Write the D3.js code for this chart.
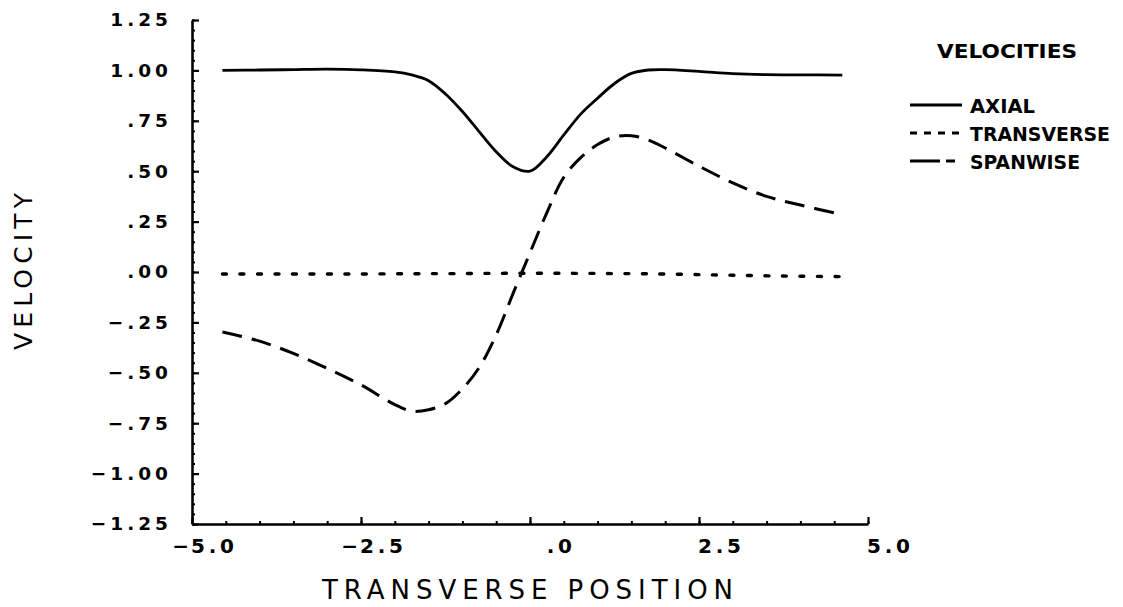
<!DOCTYPE html>
<html>
<head>
<meta charset="utf-8">
<script src="https://cdn.jsdelivr.net/npm/d3@7"></script>
<style>
  html, body { margin: 0; padding: 0; background: #fff; }
  svg { display: block; }
  text { font-family: "DejaVu Sans", sans-serif; fill: #000; }
</style>
</head>
<body>
<script>
// ---- data ----
const xValues = [-4.55, -4, -3.5, -3, -2.5, -2, -1.75, -1.5, -1.25, -1, -0.75, -0.5, -0.25, 0,
                 0.25, 0.5, 0.75, 1, 1.25, 1.5, 1.75, 2, 2.5, 3, 3.5, 4, 4.62];
const axial = [1.000, 1.002, 1.004, 1.006, 1.003, 0.993, 0.978, 0.949, 0.883, 0.796, 0.695, 0.596, 0.522, 0.500,
               0.572, 0.680, 0.783, 0.862, 0.935, 0.985, 1.002, 1.004, 0.995, 0.984, 0.979, 0.978, 0.977];
const transverse = [-0.010, -0.010, -0.010, -0.010, -0.010, -0.009, -0.009, -0.008, -0.008, -0.008, -0.007, -0.007, -0.006, -0.006,
                    -0.006, -0.006, -0.007, -0.007, -0.008, -0.008, -0.009, -0.010, -0.013, -0.016, -0.019, -0.021, -0.023];
const spanwise = [-0.298, -0.343, -0.404, -0.478, -0.560, -0.658, -0.690, -0.683, -0.653, -0.580, -0.473, -0.312, -0.106, 0.095,
                  0.295, 0.470, 0.567, 0.632, 0.670, 0.676, 0.655, 0.615, 0.525, 0.442, 0.375, 0.332, 0.284];
const seriesNames = ["AXIAL", "TRANSVERSE", "SPANWISE"];
const xTicks = [-5, -2.5, 0, 2.5, 5];
const xTickLabels = ["\u22125.0", "\u22122.5", ".0", "2.5", "5.0"];
const yTicks = [-1.25, -1.0, -0.75, -0.5, -0.25, 0, 0.25, 0.5, 0.75, 1.0, 1.25];
const yTickLabels = ["\u22121.25", "\u22121.00", "\u2212.75", "\u2212.50", "\u2212.25", ".00", ".25", ".50", ".75", "1.00", "1.25"];
const xTitle = "TRANSVERSE  POSITION";
const yTitle = "VELOCITY";
const legendTitle = "VELOCITIES";

// ---- chart ----
const W = 1123, H = 607;
const svg = d3.select("body").append("svg").attr("width", W).attr("height", H);
const x = d3.scaleLinear().domain([-5, 5]).range([192, 868]);
const y = d3.scaleLinear().domain([-1.25, 1.25]).range([524, 20]);

// minor ticks
svg.append("g").attr("transform", "translate(192,0)")
  .call(d3.axisLeft(y).tickValues(d3.range(-25, 26).map(i => i * 0.05)).tickSizeInner(-3).tickSizeOuter(0).tickFormat(""))
  .call(g => g.select(".domain").remove())
  .call(g => g.selectAll("line").attr("stroke", "#000").attr("stroke-width", 2));
svg.append("g").attr("transform", "translate(0,524)")
  .call(d3.axisBottom(x).tickValues(d3.range(-10, 11).map(i => i * 0.5)).tickSizeInner(-3).tickSizeOuter(0).tickFormat(""))
  .call(g => g.select(".domain").remove())
  .call(g => g.selectAll("line").attr("stroke", "#000").attr("stroke-width", 2));

// major y axis
const gy = svg.append("g").attr("transform", "translate(192,0)")
  .call(d3.axisLeft(y).tickValues(yTicks).tickSizeInner(-7).tickSizeOuter(0)
        .tickPadding(20).tickFormat(d => yTickLabels[yTicks.indexOf(d)]));
gy.select(".domain").attr("stroke", "#000").attr("stroke-width", 2.6);
gy.selectAll("line").attr("stroke", "#000").attr("stroke-width", 2.2);
gy.selectAll("text").attr("font-size", 18.5).attr("font-weight", "bold").attr("letter-spacing", 4)
  .attr("font-family", "DejaVu Sans").attr("fill", "#000");

// major x axis
const gx = svg.append("g").attr("transform", "translate(0,524)")
  .call(d3.axisBottom(x).tickValues(xTicks).tickSizeInner(-7).tickSizeOuter(0).tickFormat(""));
gx.select(".domain").attr("stroke", "#000").attr("stroke-width", 2.6);
gx.selectAll("line").attr("stroke", "#000").attr("stroke-width", 2.2);

// x tick labels: digits start at the tick, sign hangs to the left
xTicks.forEach((v, i) => {
  const lab = xTickLabels[i];
  const neg = lab.startsWith("\u2212");
  const body = neg ? lab.slice(1) : lab;
  const t = svg.append("text").attr("x", x(v) - 1).attr("y", 553)
    .attr("font-size", 20).attr("font-weight", "bold").attr("letter-spacing", 3.8);
  if (body.startsWith(".")) {
    t.append("tspan").attr("fill-opacity", 0).text("0");
  }
  t.append("tspan").text(body);
  if (neg) {
    svg.append("text").attr("x", x(v) - 3).attr("y", 553).attr("text-anchor", "end")
      .attr("font-size", 20).attr("font-weight", "bold").text("\u2212");
  }
});

// curves
const line = d3.line().x((d, i) => x(xValues[i])).y(d => y(d)).curve(d3.curveCatmullRom.alpha(0.5));
svg.append("path").datum(axial).attr("d", line).attr("fill", "none")
  .attr("stroke", "#000").attr("stroke-width", 2.8).attr("stroke-linejoin", "round");
svg.append("path").datum(transverse).attr("d", line).attr("fill", "none")
  .attr("stroke", "#000").attr("stroke-width", 3.4).attr("stroke-linecap", "round")
  .attr("stroke-dasharray", "4,13.5");
svg.append("path").datum(spanwise).attr("d", line).attr("fill", "none")
  .attr("stroke", "#000").attr("stroke-width", 3).attr("stroke-dasharray", "20,10");

// axis titles
svg.append("text").attr("x", 322).attr("y", 599).attr("font-size", 26)
  .attr("textLength", 411).attr("lengthAdjust", "spacing").text(xTitle);
svg.append("text").attr("transform", "translate(32,271.5) rotate(-90)")
  .attr("text-anchor", "middle").attr("font-size", 25)
  .attr("textLength", 157).attr("lengthAdjust", "spacing").text(yTitle);

// legend
svg.append("text").attr("x", 937).attr("y", 58).attr("font-size", 20).attr("font-weight", "bold")
  .attr("textLength", 140).attr("lengthAdjust", "spacingAndGlyphs").text(legendTitle);
const legY = [113, 141, 169];
const legLen = [65, 140, 110];
const legDash = [null, "7,7", "30,6,9,100"];
const legW = [2.8, 3.2, 3];
seriesNames.forEach((name, i) => {
  svg.append("line").attr("x1", 910).attr("x2", 962).attr("y1", legY[i] - 8).attr("y2", legY[i] - 8)
    .attr("stroke", "#000").attr("stroke-width", legW[i])
    .attr("stroke-dasharray", legDash[i]);
  svg.append("text").attr("x", 970).attr("y", legY[i]).attr("font-size", 20).attr("font-weight", "bold")
    .attr("textLength", legLen[i]).attr("lengthAdjust", "spacingAndGlyphs").text(name);
});
</script>
</body>
</html>
